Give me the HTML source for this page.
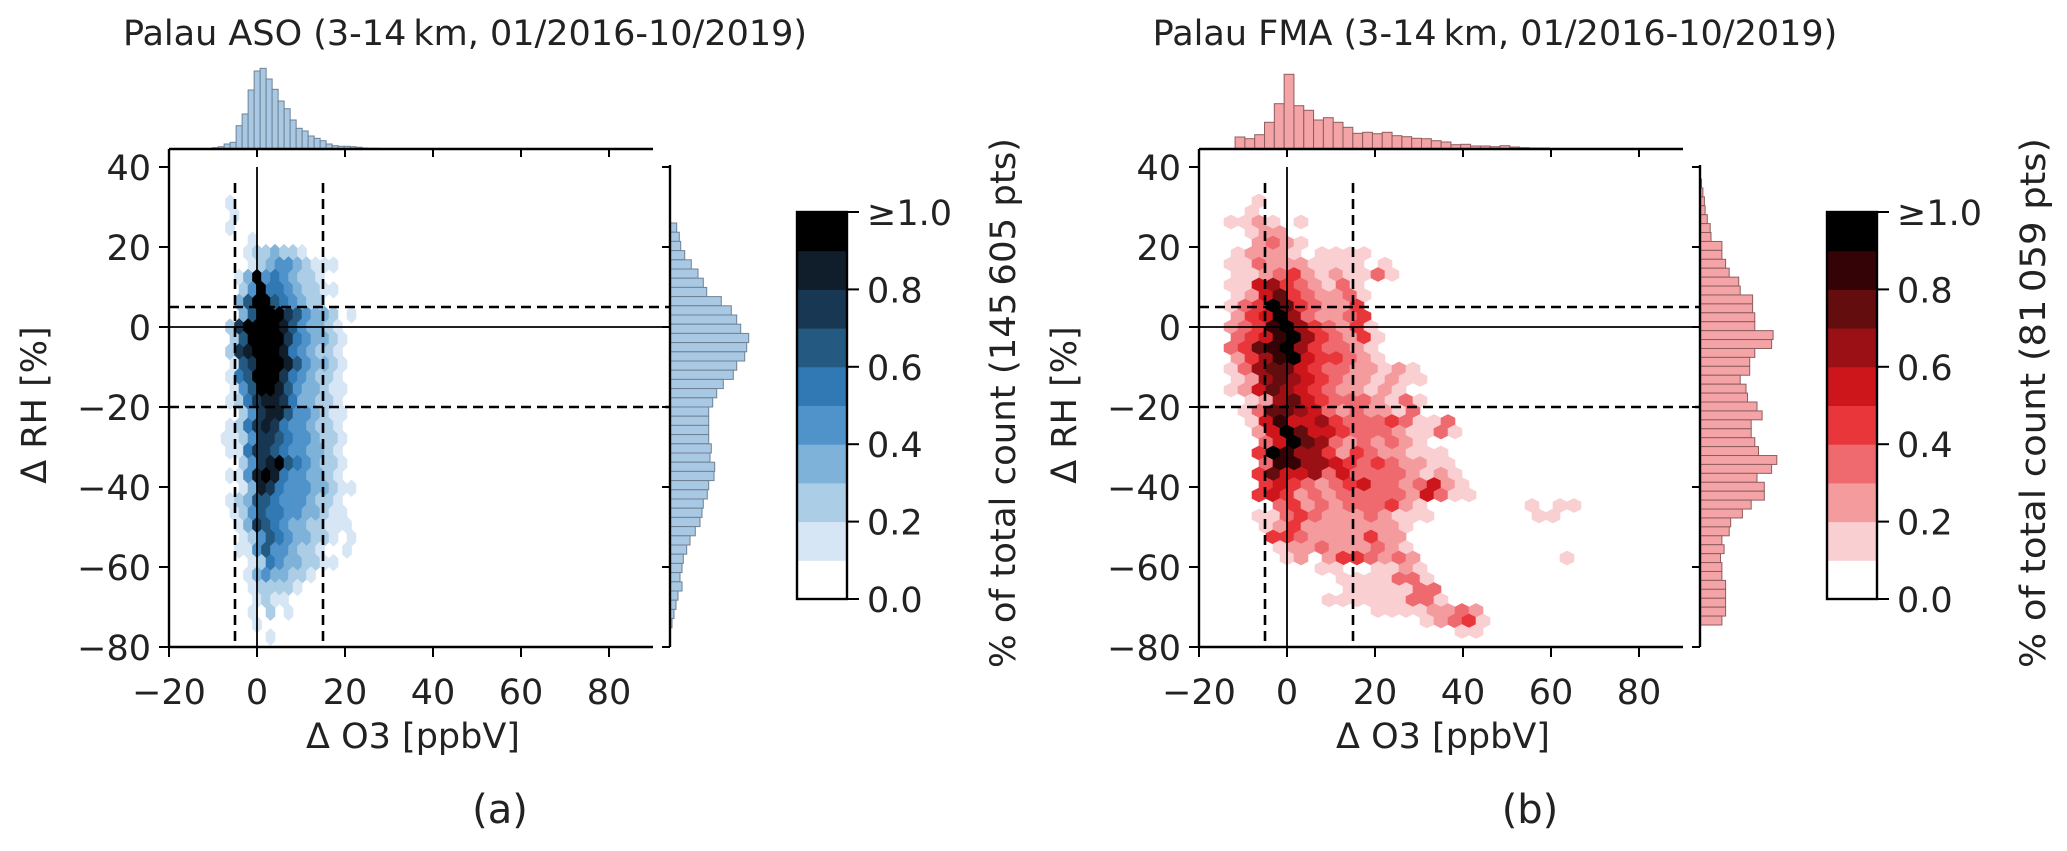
<!DOCTYPE html>
<html><head><meta charset="utf-8">
<style>
html,body{margin:0;padding:0;background:#fff;}
svg{display:block;font-family:"DejaVu Sans","Liberation Sans",sans-serif;}
</style></head>
<body>
<svg id="fig" width="2067" height="851" viewBox="0 0 2067 851" xmlns="http://www.w3.org/2000/svg"></svg>
<script>
// ---------- data ----------
const xTicks = [-20, 0, 20, 40, 60, 80];
const yTicks = [40, 20, 0, -20, -40, -60, -80];
const cbTicks = [0.0, 0.2, 0.4, 0.6, 0.8, 1.0];
const cbTickLabels = ["0.0", "0.2", "0.4", "0.6", "0.8", "\u22651.0"];
const refVLines = [-5, 15];
const refHLines = [5, -20];
const titles = ["Palau ASO (3-14\u2009km, 01/2016-10/2019)", "Palau FMA (3-14\u2009km, 01/2016-10/2019)"];
const cbLabels = ["% of total count (145\u2009605 pts)", "% of total count (81\u2009059 pts)"];
const panelTags = ["(a)", "(b)"];
const bluesLevels = ["#ffffff","#d6e6f4","#abcde6","#7eb2d8","#4f93ca","#3179b5","#245a82","#183752","#0f1e2a","#000000"];
const redsLevels = ["#ffffff","#f9cfd2","#f49b9e","#ef6a6f","#e8363a","#cd161b","#9b1015","#640d0f","#340306","#000000"];

// hexbin rows (levels 0-9), row j starts at hexRowStart and decreases
const hexRowsA = [
"..1","..1","..1","....1","....1223221","....1234432111","...1394543221","...24955432211",
"...3699654322","...36999764332.1","..2799998643321","..2699997543321","..2789998543221",
"..1679998643321","..1569997543221","..1469986433211","..1257887533221","...247886443211",
"..1257875443221",".11247765443221","..1157765443321","...247896543221","..1148985443321",
"...1387544433211","..1236654443221","..1246554433211","...1376543322111","...12465433221.1.",
"...1146443221..1.","....1254332211","....13433221","....122221",".....1211","....1.2.1",".....1","......1"
];
const hexRowStartA = 10;
const hexRowsB = [
"..1",".1","1121.1",".122","..2321","12221.1111","1132221111.1","112342121131","1156432131",
"1257432231","1349743224","2459632234","23489643241","34589643241","34789643321","24689544321",
"13677543322121","12676543221211","1257654322121","01267543332131","01377653232213","0158556433343113",
"00259755433321131","00359763232321","0049866424322111","0038866543432211","00475563533332121",
"00454323453323521","004542323333325311","0003423233342100000001011","0011343222321110000000110",
"0012422222221","0004432222422","0001223222321","0000120244323200000000001","00000011001121",
"000000001111331","000000001111133","0000000111111331","000000000011112232","0000000000000012341",
"000000000000000011"
];
const hexRowStartB = 12;

// marginal histograms
const topHistA = [1.3,2.3,5,6.7,23.3,35,59,78,80.7,70,59.7,48,40.3,29,20.7,18,13,10.7,8.3,5,3.3,2.7,2.7,2.3,1.7,1,0.7,0.7,0.4,0.3,0.3,0.3,0.3,0.3];
const topHistB = [12,10.3,14.3,26.7,45.3,74.7,43.3,38.7,29,31.3,26.7,21.7,15.7,16.7,15.3,16.7,13.3,12.3,10.7,10.3,8.3,7,4.3,4.7,3,3,2.3,3.3,2,1.3,1,1];
const rightHistA = [6.7,9.3,10.7,14.7,21.3,28,33.3,36.7,51.3,61.3,66.7,70.7,78.7,76.7,74.7,66.7,63.3,53.3,46.7,42.7,38.7,38.7,38.7,38.7,41.3,40,44.7,44,38.7,37.3,33.3,32,30,25.3,20,16.7,13.3,12,10,12,8,6,4,2];
const rightHistB = [1.5,2.9,4.4,5.1,7.3,10.2,11,21.9,21.9,25.6,29.2,38.7,40.2,52.6,52.6,54.8,54.8,73.1,71.6,54.8,49.7,49.7,40.2,46,47.5,57,62.1,51.2,51.2,54.8,58.5,76.8,71.6,57,64.3,64.3,51.2,42.4,30.7,29.2,21.9,24.1,20.5,21.9,21.9,25.6,25.6,25.6,25.6,21.9];

// ---------- drawing ----------
const NS = "http://www.w3.org/2000/svg";
const svg = document.getElementById("fig");
const FS = 35;
function mk(tag, attrs, parent) {
  const e = document.createElementNS(NS, tag);
  for (const k in attrs) e.setAttribute(k, attrs[k]);
  (parent || svg).appendChild(e);
  return e;
}

const panels = [
  {ox: 0, rows: hexRowsA, rowStart: hexRowStartA, colStart: -5, hw: 9, rowStep: 12.4, colors: bluesLevels,
   topHist: topHistA, topStart: -10.2, topW: 1.364, rightHist: rightHistA, rightStart: 26, rightW: 2.3,
   histFill: "#a9c8e3", histEdge: "#6f8294", name: "aso"},
  {ox: 1030, rows: hexRowsB, rowStart: hexRowStartB, colStart: -4, hw: 14, rowStep: 10.5, colors: redsLevels,
   topHist: topHistB, topStart: -11.8, topW: 2.23, rightHist: rightHistB, rightStart: 37, rightW: 2.23,
   histFill: "#f4a3a6", histEdge: "#8f5d5f", name: "fma"}
];

panels.forEach((p, pi) => {
  const g = mk("g", {});
  
  
  const xs = v => p.ox + 257 + v * 4.4;
  const ys = v => 327 - v * 4;
  const xL = xs(-20), xR = xs(90), yB = ys(-80), yT = ys(40);

  // hexbins
  const hg = mk("g", {}, g);
  
  
  const W = p.hw, H = p.rowStep * 4 / 3;
  const dxData = W / 4.4, dyData = p.rowStep / 4;
  p.rows.forEach((row, ri) => {
    const j = p.rowStart - ri;
    const odd = Math.abs(j) % 2 === 1;
    for (let c = 0; c < row.length; c++) {
      const ch = row[c];
      if (ch === "." || ch === "0") continue;
      const lvl = parseInt(ch, 10);
      const i = p.colStart + c;
      const cx = xs((i + (odd ? 0.5 : 0)) * dxData);
      const cy = ys(j * dyData);
      const pts = [[0,-H/2],[W/2,-H/4],[W/2,H/4],[0,H/2],[-W/2,H/4],[-W/2,-H/4]]
        .map(q => (cx + q[0]).toFixed(1) + "," + (cy + q[1]).toFixed(1)).join(" ");
      const poly = mk("polygon", {points: pts, fill: p.colors[lvl], stroke: p.colors[lvl], "stroke-width": 0.6}, hg);
      
      
    }
  });

  // reference lines
  const l0 = mk("line", {x1: xs(0), x2: xs(0), y1: yT, y2: yB, stroke: "#000", "stroke-width": 1.8}, g);
  
  
  const h0 = mk("line", {x1: xL, x2: p.ox + 670, y1: ys(0), y2: ys(0), stroke: "#000", "stroke-width": 1.8}, g);
  
  
  refVLines.forEach(v => {
    const l = mk("line", {x1: xs(v), x2: xs(v), y1: ys(36), y2: yB, stroke: "#000", "stroke-width": 2.6, "stroke-dasharray": "10,6"}, g);
    
    
  });
  refHLines.forEach(v => {
    const l = mk("line", {x1: xL, x2: p.ox + 670, y1: ys(v), y2: ys(v), stroke: "#000", "stroke-width": 2.6, "stroke-dasharray": "10,6"}, g);
    
    
  });

  // spines
  const sp = mk("path", {d: `M${xL},149 L${xL},${yB} L${xR},${yB}`, fill: "none", stroke: "#000", "stroke-width": 2.4}, g);
  
  

  // x ticks
  xTicks.forEach(v => {
    const t = mk("line", {x1: xs(v), x2: xs(v), y1: yB, y2: yB + 10, stroke: "#000", "stroke-width": 2}, g);
    
    
    const tt = mk("line", {x1: xs(v), x2: xs(v), y1: 149, y2: 157, stroke: "#000", "stroke-width": 2}, g);
    
    
    const lab = mk("text", {x: xs(v), y: 704, "font-size": FS, "text-anchor": "middle", fill: "#222"}, g);
    lab.textContent = (v < 0 ? "\u2212" + (-v) : v);
    
    
  });
  // y ticks
  yTicks.forEach(v => {
    const t = mk("line", {x1: xL - 10, x2: xL, y1: ys(v), y2: ys(v), stroke: "#000", "stroke-width": 2}, g);
    
    
    const rt = mk("line", {x1: p.ox + 662, x2: p.ox + 670, y1: ys(v), y2: ys(v), stroke: "#000", "stroke-width": 2}, g);
    
    
    const lab = mk("text", {x: xL - 18, y: ys(v) + 13, "font-size": FS, "text-anchor": "end", fill: "#222"}, g);
    lab.textContent = (v < 0 ? "\u2212" + (-v) : v);
    
    
  });

  // top marginal histogram
  const tg = mk("g", {}, g);
  
  
  p.topHist.forEach((h, k) => {
    const x0 = xs(p.topStart + k * p.topW), x1 = xs(p.topStart + (k + 1) * p.topW);
    const r = mk("rect", {x: x0, y: 149 - h, width: x1 - x0, height: h, fill: p.histFill, stroke: p.histEdge, "stroke-width": 1}, tg);
    
    
  });
  const tb = mk("line", {x1: xL, x2: xR, y1: 149, y2: 149, stroke: "#000", "stroke-width": 2.4}, g);
  
  

  // right marginal histogram
  const rg = mk("g", {}, g);
  
  
  const bx = p.ox + 670;
  p.rightHist.forEach((w, k) => {
    const y0 = ys(p.rightStart - k * p.rightW), y1 = ys(p.rightStart - (k + 1) * p.rightW);
    const r = mk("rect", {x: bx, y: y0, width: w, height: y1 - y0, fill: p.histFill, stroke: p.histEdge, "stroke-width": 1}, rg);
    
    
  });
  const rb = mk("line", {x1: bx, x2: bx, y1: 165, y2: yB, stroke: "#000", "stroke-width": 2.4}, g);
  
  

  // colorbar
  const cg = mk("g", {}, g);
  
  
  const cx0 = p.ox + 797, cw = 50, cyT = 212, cyB = 599;
  const cy = v => cyB - v * (cyB - cyT);
  p.colors.forEach((col, k) => {
    const r = mk("rect", {x: cx0, y: cy((k + 1) / 10), width: cw, height: cy(k / 10) - cy((k + 1) / 10) + 0.5, fill: col}, cg);
    
    
  });
  const cf = mk("rect", {x: cx0, y: cyT, width: cw, height: cyB - cyT, fill: "none", stroke: "#000", "stroke-width": 2.4}, cg);
  
  
  cbTicks.forEach((v, k) => {
    const t = mk("line", {x1: cx0 + cw, x2: cx0 + cw + 12, y1: cy(v), y2: cy(v), stroke: "#000", "stroke-width": 2}, cg);
    
    
    const lab = mk("text", {x: cx0 + cw + 20, y: cy(v) + 13, "font-size": FS, fill: "#222"}, cg);
    lab.textContent = cbTickLabels[k];
    
    
  });
  const cl = mk("text", {x: 0, y: 0, "font-size": FS, "text-anchor": "middle", fill: "#222",
    transform: `translate(${p.ox + 1015},403) rotate(-90)`, textLength: 530, lengthAdjust: "spacingAndGlyphs"}, cg);
  cl.textContent = cbLabels[pi];
  
  

  // titles / labels
  const ti = mk("text", {x: p.ox + 465, y: 45, "font-size": FS, "text-anchor": "middle", fill: "#222"}, g);
  ti.textContent = titles[pi];
  
  
  const xl = mk("text", {x: p.ox + 413, y: 748, "font-size": FS, "text-anchor": "middle", fill: "#222"}, g);
  xl.textContent = "\u0394 O3 [ppbV]";
  
  
  const yl = mk("text", {x: 0, y: 0, "font-size": FS, "text-anchor": "middle", fill: "#222",
    transform: `translate(${p.ox + 46},405) rotate(-90)`}, g);
  yl.textContent = "\u0394 RH [%]";
  
  
  const pt = mk("text", {x: p.ox + 500, y: 823, "font-size": 40, "text-anchor": "middle", fill: "#222"}, g);
  pt.textContent = panelTags[pi];
  
  
});
</script>
</body></html>
